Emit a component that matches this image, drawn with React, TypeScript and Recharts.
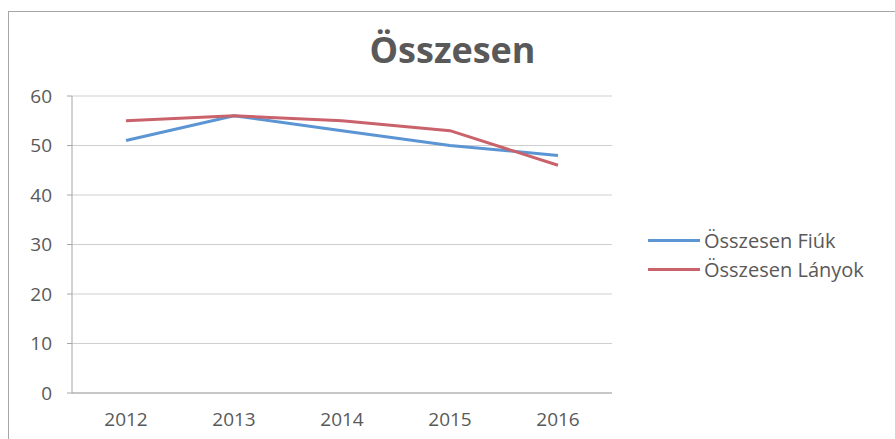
import { LineChart, Line, XAxis, YAxis, CartesianGrid, Legend } from 'recharts';

const years = ['2012', '2013', '2014', '2015', '2016'];
const fiuk = [51, 56, 53, 50, 48];
const lanyok = [55, 56, 55, 53, 46];
const yTicks = [0, 10, 20, 30, 40, 50, 60];

const data = years.map((year, i) => ({ year, fiuk: fiuk[i], lanyok: lanyok[i] }));

const FONT = '"Open Sans", sans-serif';
const TEXT = '#595959';

const renderLegend = (props: any) => (
  <div style={{ fontFamily: FONT, fontSize: 20, color: TEXT }}>
    {props.payload.map((entry: any) => (
      <div key={entry.value} style={{ display: 'flex', alignItems: 'center', height: 29, whiteSpace: 'nowrap' }}>
        <span style={{ display: 'inline-block', width: 52, height: 3, background: entry.color, marginRight: 4 }} />
        <span>{entry.value}</span>
      </div>
    ))}
  </div>
);

export default function App() {
  return (
    <div style={{ position: 'absolute', left: 0, top: 0, width: 895, height: 439, overflow: 'hidden', background: '#fff' }}>
      <div style={{ position: 'absolute', left: 8, top: 11, width: 900, height: 440, border: '1px solid #a6a6a6' }} />
      <div
        style={{
          position: 'absolute', left: 0, top: 26, width: 905, textAlign: 'center',
          fontFamily: FONT, fontWeight: 700, fontSize: 36, color: TEXT, lineHeight: '48px',
        }}
      >
        Összesen
      </div>
      <LineChart width={895} height={439} data={data} margin={{ top: 96, right: 283, bottom: 16, left: 12 }}>
        <CartesianGrid vertical={false} stroke="#cfcfcf" />
        <XAxis
          dataKey="year"
          height={30}
          padding={{ left: 54, right: 54 }}
          stroke="#a6a6a6"
          tickLine={false}
          tickSize={0}
          tickMargin={20}
          tick={{ fill: TEXT, fontSize: 19, fontFamily: FONT }}
        />
        <YAxis
          width={60}
          domain={[0, 60]}
          ticks={yTicks}
          stroke="#a6a6a6"
          tickSize={5}
          tickMargin={15}
          tick={{ fill: TEXT, fontSize: 19, fontFamily: FONT }}
        />
        <Legend
          layout="vertical"
          align="center"
          verticalAlign="middle"
          content={renderLegend}
          wrapperStyle={{ left: 648, top: 226, width: 240 }}
        />
        <Line name="Összesen Fiúk" dataKey="fiuk" stroke="#5b95d3" strokeWidth={3} dot={false} isAnimationActive={false} />
        <Line name="Összesen Lányok" dataKey="lanyok" stroke="#c9626b" strokeWidth={3} dot={false} isAnimationActive={false} />
      </LineChart>
    </div>
  );
}
